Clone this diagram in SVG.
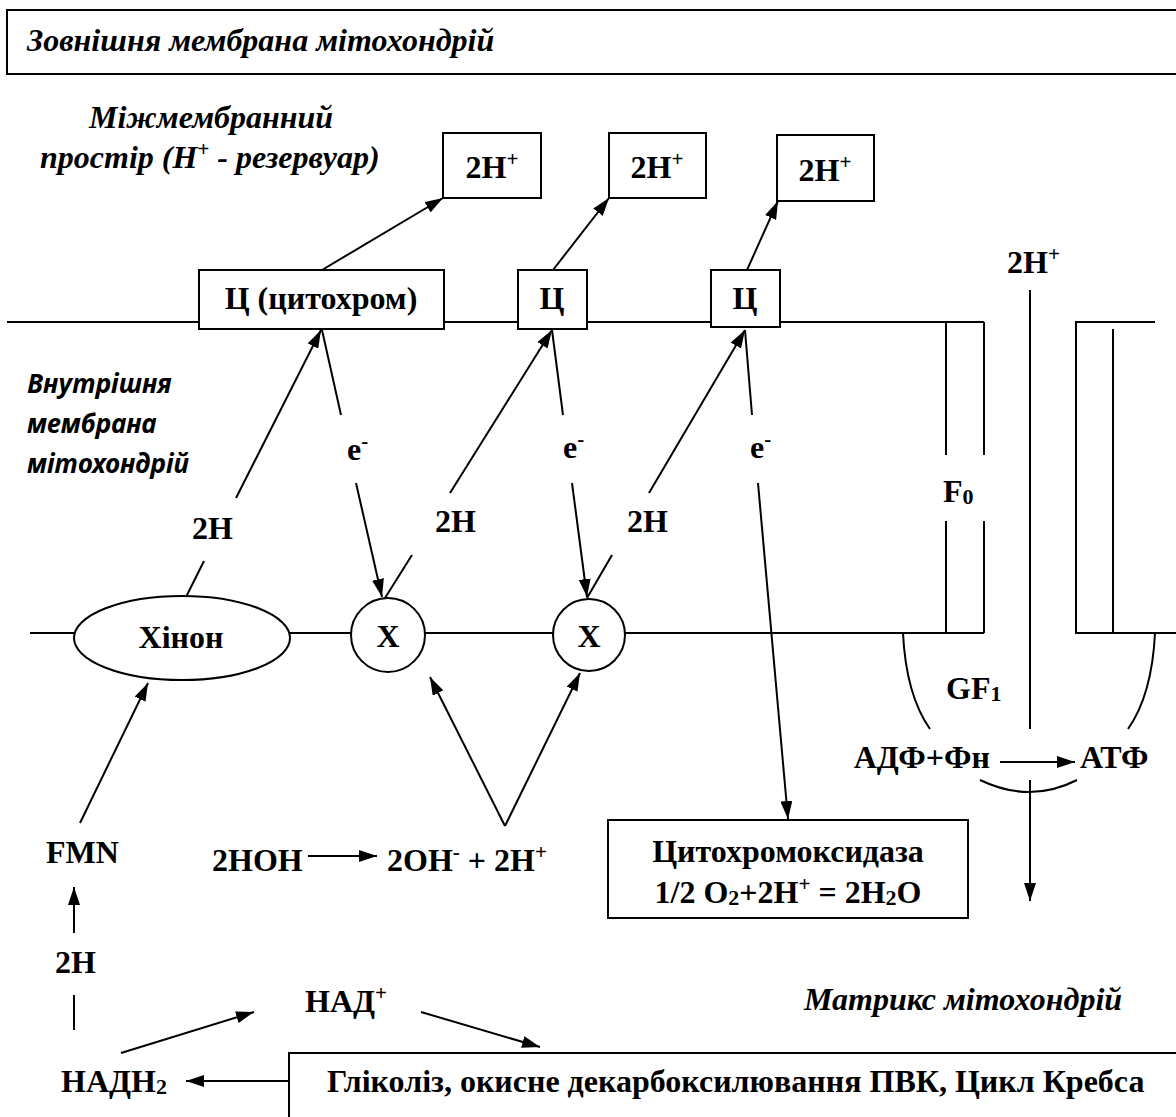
<svg xmlns="http://www.w3.org/2000/svg" width="1176" height="1117" viewBox="0 0 1176 1117">
  <style>
    .t { font-family: "Liberation Serif", "Times New Roman", serif; font-weight: bold; font-size: 32px; fill: #000; }
    .it { font-style: italic; }
    .s { font-family: "Noto Sans", "Open Sans", sans-serif; font-weight: bold; font-style: italic; font-size: 26px; fill: #000; }
    .ln { stroke: #000; stroke-width: 2; fill: none; }
    .box { fill: #fff; stroke: #000; stroke-width: 2; }
    .sup { font-size: 21px; }
    .sub { font-size: 22px; }
  </style>
  <defs>
    <marker id="arr" viewBox="0 0 18 12" refX="18" refY="6" markerWidth="18" markerHeight="12" markerUnits="userSpaceOnUse" orient="auto">
      <path d="M0,0 L18,6 L0,12 z" fill="#000"/>
    </marker>
  </defs>
  <rect width="1176" height="1117" fill="#fff"/>

  <!-- outer membrane -->
  <g id="outer-membrane">
    <rect class="box" x="7" y="10" width="1190" height="64"/>
    <text class="t it" x="27" y="51">Зовнішня мембрана мітохондрій</text>
  </g>

  <g id="intermembrane-label">
    <text class="t it" x="89" y="128">Міжмембранний</text>
    <text class="t it" x="40" y="168">простір (H<tspan class="sup" dy="-12">+</tspan><tspan dy="12"> - резервуар)</tspan></text>
  </g>

  <g id="inner-membrane-label">
    <text class="s" x="27" y="393">Внутрішня</text>
    <text class="s" x="27" y="433">мембрана</text>
    <text class="s" x="27" y="473">мітохондрій</text>
  </g>

  <g id="matrix-label">
    <text class="t it" x="804" y="1010">Матрикс мітохондрій</text>
  </g>

  <!-- membranes and ATP synthase outline -->
  <g id="membranes">
    <line class="ln" x1="7" y1="322" x2="984" y2="322"/>
    <line class="ln" x1="30" y1="633" x2="984" y2="633"/>
    <!-- F0 left half -->
    <line class="ln" x1="946" y1="322" x2="946" y2="455"/>
    <line class="ln" x1="946" y1="521" x2="946" y2="633"/>
    <line class="ln" x1="984" y1="322" x2="984" y2="455"/>
    <line class="ln" x1="984" y1="521" x2="984" y2="633"/>
    <!-- F0 right half -->
    <polyline class="ln" points="1155,322 1076,322 1076,633 1176,633"/>
    <line class="ln" x1="1113" y1="329" x2="1113" y2="633"/>
    <!-- F1 head -->
    <path class="ln" d="M903,633 Q906,695 930,729"/>
    <path class="ln" d="M1155,633 Q1152,695 1128,729"/>
    <path class="ln" d="M980,780 Q1030,804 1077,780"/>
  </g>

  <g id="connectors">
    <!-- cytochromes to proton boxes -->
    <line class="ln" x1="322" y1="270" x2="443" y2="198" marker-end="url(#arr)"/>
    <line class="ln" x1="553" y1="270" x2="609" y2="198" marker-end="url(#arr)"/>
    <line class="ln" x1="747" y1="270" x2="778" y2="201" marker-end="url(#arr)"/>
    <!-- 2H transfers -->
    <line class="ln" x1="186" y1="597" x2="204" y2="561"/>
    <line class="ln" x1="236" y1="498" x2="321" y2="330" marker-end="url(#arr)"/>
    <line class="ln" x1="385" y1="598" x2="412" y2="555"/>
    <line class="ln" x1="450" y1="493" x2="552" y2="330" marker-end="url(#arr)"/>
    <line class="ln" x1="587" y1="598" x2="612" y2="555"/>
    <line class="ln" x1="649" y1="493" x2="745" y2="330" marker-end="url(#arr)"/>
    <!-- electron transfers -->
    <line class="ln" x1="322" y1="330" x2="341" y2="415"/>
    <line class="ln" x1="356" y1="483" x2="382" y2="597" marker-end="url(#arr)"/>
    <line class="ln" x1="552" y1="330" x2="563" y2="415"/>
    <line class="ln" x1="572" y1="483" x2="587" y2="597" marker-end="url(#arr)"/>
    <line class="ln" x1="745" y1="330" x2="752" y2="415"/>
    <line class="ln" x1="758" y1="483" x2="788" y2="819" marker-end="url(#arr)"/>
    <!-- water dissociation to carriers -->
    <line class="ln" x1="505" y1="826" x2="430" y2="677" marker-end="url(#arr)"/>
    <line class="ln" x1="505" y1="826" x2="580" y2="673" marker-end="url(#arr)"/>
    <line class="ln" x1="308" y1="856" x2="377" y2="856" marker-end="url(#arr)"/>
    <!-- FMN chain -->
    <line class="ln" x1="80" y1="823" x2="148" y2="683" marker-end="url(#arr)"/>
    <line class="ln" x1="74" y1="933" x2="74" y2="887" marker-end="url(#arr)"/>
    <line class="ln" x1="74" y1="995" x2="74" y2="1030"/>
    <!-- NAD cycle -->
    <line class="ln" x1="121" y1="1053" x2="254" y2="1012" marker-end="url(#arr)"/>
    <line class="ln" x1="421" y1="1012" x2="540" y2="1047" marker-end="url(#arr)"/>
    <line class="ln" x1="289" y1="1081" x2="186" y2="1081" marker-end="url(#arr)"/>
    <!-- ATP synthase proton channel -->
    <line class="ln" x1="1030" y1="290" x2="1030" y2="729"/>
    <line class="ln" x1="1030" y1="780" x2="1030" y2="901" marker-end="url(#arr)"/>
    <line class="ln" x1="1000" y1="762" x2="1075" y2="762" marker-end="url(#arr)"/>
  </g>

  <!-- proton reservoir boxes -->
  <g id="h-box-1">
    <rect class="box" x="443" y="133" width="98" height="65"/>
    <text class="t" x="492" y="178" text-anchor="middle">2H<tspan class="sup" dy="-12">+</tspan></text>
  </g>
  <g id="h-box-2">
    <rect class="box" x="609" y="133" width="97" height="65"/>
    <text class="t" x="657" y="178" text-anchor="middle">2H<tspan class="sup" dy="-12">+</tspan></text>
  </g>
  <g id="h-box-3">
    <rect class="box" x="777" y="135" width="97" height="66"/>
    <text class="t" x="825" y="181" text-anchor="middle">2H<tspan class="sup" dy="-12">+</tspan></text>
  </g>

  <!-- cytochromes -->
  <g id="cyt-1">
    <rect class="box" x="199" y="270" width="245" height="59"/>
    <text class="t" x="321" y="309" text-anchor="middle">Ц (цитохром)</text>
  </g>
  <g id="cyt-2">
    <rect class="box" x="518" y="270" width="69" height="59"/>
    <text class="t" x="552" y="309" text-anchor="middle">Ц</text>
  </g>
  <g id="cyt-3">
    <rect class="box" x="711" y="270" width="69" height="57"/>
    <text class="t" x="745" y="309" text-anchor="middle">Ц</text>
  </g>

  <!-- carriers in the inner membrane -->
  <g id="quinone">
    <ellipse class="box" cx="182" cy="638" rx="108" ry="42"/>
    <text class="t" x="181" y="648" text-anchor="middle">Хінон</text>
  </g>
  <g id="x-1">
    <circle class="box" cx="388" cy="635" r="37"/>
    <text class="t" x="388" y="647" text-anchor="middle">X</text>
  </g>
  <g id="x-2">
    <circle class="box" cx="589" cy="635" r="36"/>
    <text class="t" x="589" y="647" text-anchor="middle">X</text>
  </g>

  <g id="oxidase">
    <rect class="box" x="608" y="820" width="360" height="98"/>
    <text class="t" x="788" y="862" text-anchor="middle">Цитохромоксидаза</text>
    <text class="t" x="788" y="903" text-anchor="middle">1/2 O<tspan class="sub" dy="2">2</tspan><tspan dy="-2">+2H</tspan><tspan class="sup" dy="-12">+</tspan><tspan dy="12">  = 2H</tspan><tspan class="sub" dy="2">2</tspan><tspan dy="-2">O</tspan></text>
  </g>

  <g id="krebs">
    <rect class="box" x="289" y="1053" width="900" height="80"/>
    <text class="t" x="327" y="1092">Гліколіз, окисне декарбоксилювання ПВК, Цикл Кребса</text>
  </g>

  <!-- free labels -->
  <g id="labels">
    <text class="t" x="1007" y="273">2H<tspan class="sup" dy="-12">+</tspan></text>
    <text class="t" x="347" y="460">e<tspan class="sup" dy="-12">-</tspan></text>
    <text class="t" x="563" y="458">e<tspan class="sup" dy="-12">-</tspan></text>
    <text class="t" x="750" y="458">e<tspan class="sup" dy="-12">-</tspan></text>
    <text class="t" x="192" y="539">2H</text>
    <text class="t" x="435" y="532">2H</text>
    <text class="t" x="627" y="532">2H</text>
    <text class="t" x="943" y="502">F<tspan class="sub" dy="2">0</tspan></text>
    <text class="t" x="946" y="699">GF<tspan class="sub" dy="2">1</tspan></text>
    <text class="t" x="990" y="768" text-anchor="end">АДФ+Фн</text>
    <text class="t" x="1080" y="768">АТФ</text>
    <text class="t" x="46" y="863">FMN</text>
    <text class="t" x="212" y="871">2HOH</text>
    <text class="t" x="387" y="871">2OH<tspan class="sup" dy="-12">-</tspan><tspan dy="12"> + 2H</tspan><tspan class="sup" dy="-12">+</tspan></text>
    <text class="t" x="55" y="973">2H</text>
    <text class="t" x="305" y="1012">НАД<tspan class="sup" dy="-12">+</tspan></text>
    <text class="t" x="61" y="1092">НАДН<tspan class="sub" dy="2">2</tspan></text>
  </g>
</svg>
